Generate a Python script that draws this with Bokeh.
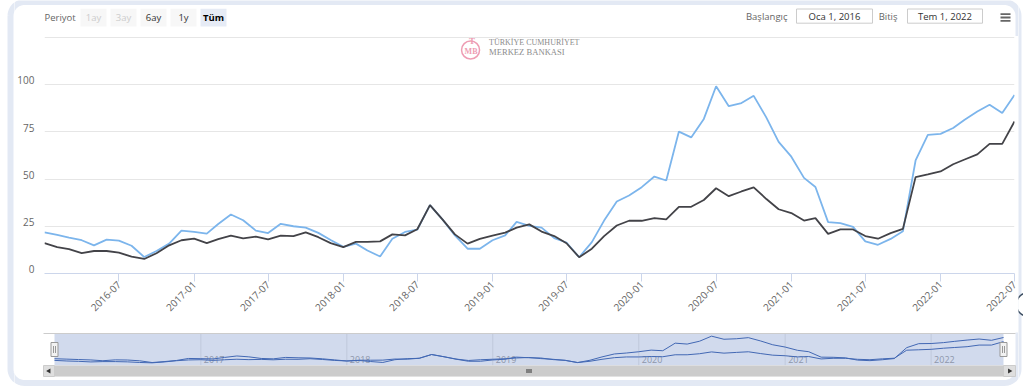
import math
import numpy as np
import pandas as pd
from bokeh.plotting import figure
from bokeh.layouts import row, column
from bokeh.models import Range1d, FixedTicker, DatetimeTickFormatter
from bokeh.core.properties import value
from bokeh.embed import file_html
from bokeh.resources import INLINE

# ---------------- data ----------------
months = pd.date_range("2016-01-01", "2022-07-01", freq="MS")

series_blue = [21.8, 20.4, 19.0, 17.6, 14.9, 17.9, 17.4, 14.7, 8.7, 11.9,
               15.8, 22.7, 22.0, 21.1, 26.2, 31.2, 28.2, 22.7, 21.4, 26.3,
               25.0, 24.3, 21.5, 17.7, 14.1, 15.8, 12.2, 9.0, 18.4, 22.0,
               23.2, 36.2, 28.5, 20.2, 13.1, 13.1, 17.6, 20.2, 27.3, 25.2,
               24.3, 18.7, 16.4, 8.6, 16.6, 28.0, 38.1, 41.3, 45.7, 51.3,
               49.2, 75.1, 72.0, 81.8, 99.1, 88.5, 90.2, 94.0, 82.5, 69.6,
               61.8, 50.6, 45.8, 27.2, 26.7, 24.7, 17.0, 15.2, 18.3, 22.3,
               59.8, 73.4, 73.9, 77.0, 81.4, 85.7, 89.3, 84.9, 94.5]

series_black = [16.1, 14.0, 12.9, 10.8, 11.9, 11.9, 11.0, 8.9, 7.7, 10.7,
                14.9, 17.6, 18.4, 16.1, 18.2, 20.0, 18.6, 19.5, 18.1, 20.0,
                19.8, 21.8, 19.2, 16.1, 14.0, 16.7, 16.7, 17.0, 20.7, 20.2,
                23.4, 36.2, 28.5, 20.7, 15.8, 18.3, 20.0, 21.6, 24.3, 26.0,
                22.2, 19.8, 16.0, 8.6, 13.1, 19.8, 25.4, 27.9, 27.9, 29.3,
                28.6, 35.3, 35.3, 38.9, 45.1, 40.9, 43.4, 45.6, 39.4, 34.0,
                32.0, 28.0, 29.3, 21.0, 23.3, 23.3, 19.8, 18.4, 21.4, 23.6,
                51.0, 52.4, 54.0, 57.8, 60.3, 63.0, 68.6, 68.6, 80.4]

x_tick_labels = ["2016-07", "2017-01", "2017-07", "2018-01", "2018-07",
                 "2019-01", "2019-07", "2020-01", "2020-07", "2021-01",
                 "2021-07", "2022-01", "2022-07"]
y_ticks = [0, 25, 50, 75, 100, 125]
nav_year_labels = ["2017", "2018", "2019", "2020", "2021", "2022"]
range_label = "Periyot"
range_buttons = ["1ay", "3ay", "6ay", "1y", "Tüm"]
start_label, start_value = "Başlangıç", "Oca 1, 2016"
end_label, end_value = "Bitiş", "Tem 1, 2022"
logo_line1 = "TÜRKİYE CUMHURİYET"
logo_line2 = "MERKEZ BANKASI"

# ---------------- styles ----------------
FONT = value("Open Sans")
BORDER = "#e3e9f4"
BLUE = "#7cb5ec"
DARK = "#434348"
XL, XR = 14, 1018          # page span of the central column
CW = XR - XL


def ms(d):
    return pd.Timestamp(d).value / 1e6


def no_align(f):
    if "frame_align" in f.properties():
        f.frame_align = False
    return f


t = np.array([ms(d) for d in months])
T0, T1 = t[0], t[-1]

# outer rounded frame path (page pixels)
R = 14
fx0, fx1, fy0, fy1 = 10, 1018, 1.5, 382.5
frame_x, frame_y = [], []
corners = [(fx0 + R, fy0 + R, 180, 90), (fx1 - R, fy0 + R, 90, 0),
           (fx1 - R, fy1 - R, 0, -90), (fx0 + R, fy1 - R, -90, -180)]
for cx, cy, a_start, a_end in corners:
    for k in range(13):
        a = math.radians(a_start + (a_end - a_start) * k / 12)
        frame_x.append(cx + R * math.cos(a))
        frame_y.append(cy - R * math.sin(a))
frame_x.append(frame_x[0])
frame_y.append(frame_y[0])


def draw_frame(f):
    f.line(frame_x, frame_y, line_color=BORDER, line_width=6)


def plain(width, height, xr, yr):
    f = figure(width=width, height=height, x_range=Range1d(*xr), y_range=Range1d(*yr),
               min_border=0, x_axis_location=None, y_axis_location=None,
               toolbar_location=None, output_backend="svg")
    f.grid.visible = False
    f.outline_line_color = None
    return no_align(f)


# ---------------- top bar (page coordinates) ----------------
top = plain(CW, 36, (XL, XR), (36, 0))
draw_frame(top)
top.text(x=[44], y=[17], text=[range_label], text_font=FONT, text_font_size="9.5px",
         text_color="#666666", text_align="left", text_baseline="middle")

btn_left = [80 + 30 * i for i in range(len(range_buttons))]
btn_fill = ["#f7f7f7", "#f7f7f7", "#f7f7f7", "#f7f7f7", "#e6ebf5"]
btn_text = ["#cccccc", "#cccccc", "#333333", "#333333", "#000000"]
btn_style = ["normal", "normal", "normal", "normal", "bold"]
top.quad(left=btn_left, right=[b + 26 for b in btn_left], top=8.3, bottom=26,
         fill_color=btn_fill, line_color=None)
top.text(x=[b + 13 for b in btn_left], y=[17] * 5, text=range_buttons, text_font=FONT,
         text_font_size="9.5px", text_color=btn_text, text_font_style=btn_style,
         text_align="center", text_baseline="middle")

top.text(x=[787, 897], y=[16, 16], text=[start_label, end_label], text_font=FONT,
         text_font_size="9.5px", text_color="#666666", text_align="right", text_baseline="middle")
top.quad(left=[796, 907], right=[872, 982], top=8.5, bottom=22.7,
         fill_color="white", line_color="#cccccc", line_width=1)
top.text(x=[834, 944.5], y=[15.7, 15.7], text=[start_value, end_value], text_font=FONT,
         text_font_size="9.5px", text_color="#333333", text_align="center", text_baseline="middle")
top.segment(x0=[1000] * 3, x1=[1010] * 3, y0=[13.7, 17, 20.3], y1=[13.7, 17, 20.3],
            line_color="#666666", line_width=1.8)

# ---------------- main chart ----------------
main = figure(width=CW, height=296, x_axis_type="datetime",
              x_range=Range1d(T0, T1), y_range=Range1d(0, 125.4),
              min_border_left=43 - XL, min_border_right=XR - 1014,
              min_border_top=0, min_border_bottom=59,
              toolbar_location=None, output_backend="svg")
no_align(main)
main.outline_line_color = None
main.xgrid.visible = False
main.ygrid.grid_line_color = "#e6e6e6"
main.ygrid.ticker = FixedTicker(ticks=y_ticks)

tick_ms = [ms(pd.to_datetime(s, format="%Y-%m")) for s in x_tick_labels]
main.xaxis.ticker = FixedTicker(ticks=tick_ms)
fmt = "%Y-%m"
main.xaxis.formatter = DatetimeTickFormatter(milliseconds=fmt, seconds=fmt, minsec=fmt, minutes=fmt,
                                             hourmin=fmt, hours=fmt, days=fmt, months=fmt, years=fmt)
main.xaxis.axis_line_color = "#ccd6eb"
main.xaxis.major_tick_line_color = "#ccd6eb"
main.xaxis.major_tick_out = 8
main.xaxis.major_tick_in = 0
main.xaxis.minor_tick_out = 0
main.xaxis.minor_tick_in = 0
main.xaxis.major_label_orientation = math.pi / 4
main.xaxis.major_label_standoff = 1
main.xaxis.major_label_text_font = "Open Sans"
main.xaxis.major_label_text_font_size = "10px"
main.xaxis.major_label_text_color = "#666666"

# y labels sit ~4px above their grid lines (as in the reference)
lift = 2.2
label_pos = [round(v + lift, 3) for v in y_ticks[:-1]]
main.yaxis.ticker = FixedTicker(ticks=label_pos)
main.yaxis.major_label_overrides = {p: str(v) for p, v in zip(label_pos, y_ticks[:-1])}
main.yaxis.axis_line_color = None
main.yaxis.major_tick_line_color = None
main.yaxis.major_tick_out = 0
main.yaxis.major_tick_in = 0
main.yaxis.minor_tick_line_color = None
main.yaxis.minor_tick_out = 0
main.yaxis.major_label_standoff = 10
main.yaxis.major_label_text_font = "Open Sans"
main.yaxis.major_label_text_font_size = "10px"
main.yaxis.major_label_text_color = "#666666"

main.line(t, series_blue, line_color=BLUE, line_width=1.8)
main.line(t, series_black, line_color=DARK, line_width=1.8)


# logo (positions given in page pixels, mapped to the chart's scales)
def mt(px):
    return T0 + (px - 43) * (T1 - T0) / (1014 - 43)


def mv(py):
    return (273 - py) * 125.4 / 237


PINK = "#ee9db3"
main.scatter(x=[mt(469.5)], y=[mv(49.5)], marker="circle", size=18, fill_color=None,
             line_color=PINK, line_width=1.5)
main.text(x=[mt(470)], y=[mv(50.5)], text=["MB"], text_font=value("Liberation Serif"),
          text_font_size="8px", text_font_style="bold", text_color=PINK,
          text_align="center", text_baseline="middle")
main.text(x=[mt(471)], y=[mv(40)], text=["T"], text_font=value("Liberation Serif"),
          text_font_size="9px", text_font_style="bold", text_color=PINK,
          text_align="center", text_baseline="middle")
main.text(x=[mt(488), mt(488)], y=[mv(42.3), mv(51.8)], text=[logo_line1, logo_line2],
          text_font=value("Liberation Serif"), text_font_size=["8px", "8.6px"],
          text_color="#8c8c8c", text_align="left", text_baseline="middle")

# ---------------- navigator + scrollbar ----------------
nav = plain(CW, 56, (XL, XR), (388, 332))
draw_frame(nav)

NX0, NX1 = 54, 1003
NY0, NY1 = 333, 365


def nav_t(px):
    return T0 + (px - NX0) * (T1 - T0) / (NX1 - NX0)


vals = series_blue + series_black
lo, hi = min(vals), max(vals)
pad = 0.1 * (hi - lo)
vlo, vhi = lo - pad, hi + pad


def nav_v(py):
    return vlo + (NY1 - py) * (vhi - vlo) / (NY1 - NY0)


nav.extra_x_ranges = {"t": Range1d(nav_t(XL), nav_t(XR))}
nav.extra_y_ranges = {"v": Range1d(nav_v(388), nav_v(332))}

year_t = [ms(f"{y}-01-01") for y in nav_year_labels]
nav.segment(x0=year_t, x1=year_t, y0=NY0, y1=NY1, x_range_name="t",
            line_color="#e6e6e6", line_width=1)
nav.text(x=year_t, y=[358.5] * len(year_t), text=nav_year_labels, x_range_name="t",
         x_offset=3, text_font=FONT, text_font_size="9px", text_color="#a0a0a0",
         text_align="left", text_baseline="middle")
nav.line(t, series_blue, x_range_name="t", y_range_name="v", line_color="#335cad", line_width=1)
nav.line(t, series_black, x_range_name="t", y_range_name="v", line_color="#335cad", line_width=1)
nav.quad(left=NX0, right=NX1, top=NY0, bottom=NY1, fill_color="#6685c2", fill_alpha=0.3,
         line_color=None)
nav.segment(x0=[43], x1=[1015], y0=[NY0], y1=[NY0], line_color="#cccccc", line_width=1)

# handles
nav.quad(left=[NX0 - 3.5, NX1 - 3.5], right=[NX0 + 3.5, NX1 + 3.5], top=342, bottom=356,
         fill_color="#f2f2f2", line_color="#999999", line_width=1)
nav.segment(x0=[NX0 - 1, NX0 + 1, NX1 - 1, NX1 + 1], x1=[NX0 - 1, NX0 + 1, NX1 - 1, NX1 + 1],
            y0=345.5, y1=352.5, line_color="#999999", line_width=1)

# scrollbar
nav.quad(left=[43], right=[1015], top=365, bottom=376, fill_color="#f2f2f2", line_color=None)
nav.quad(left=[NX0], right=[NX1], top=365, bottom=376, fill_color="#cccccc", line_color=None)
nav.quad(left=[43, NX1], right=[NX0, 1015], top=365, bottom=376, fill_color="#dedede",
         line_color="#cccccc", line_width=1)
nav.scatter(x=[48.5, 1009], y=[370.5, 370.5], marker="triangle", size=5,
            angle=[math.pi / 2, -math.pi / 2], fill_color="#333333", line_color=None)
mid = (NX0 + NX1) / 2
nav.segment(x0=[mid - 2, mid, mid + 2], x1=[mid - 2, mid, mid + 2], y0=368.5, y1=372.5,
            line_color="#333333", line_width=1)

# ---------------- side strips of the outer frame ----------------
left = plain(XL, 388, (0, XL), (388, 0))
draw_frame(left)
right = plain(1023 - XR, 388, (XR, 1023), (388, 0))
draw_frame(right)
right.scatter(x=[1028], y=[304], marker="circle", size=24, fill_color="white",
              line_color="#3d4f63", line_width=1.5)

layout = row(left, column(top, main, nav), right)

open("out.html", "w").write(file_html(layout, INLINE))
